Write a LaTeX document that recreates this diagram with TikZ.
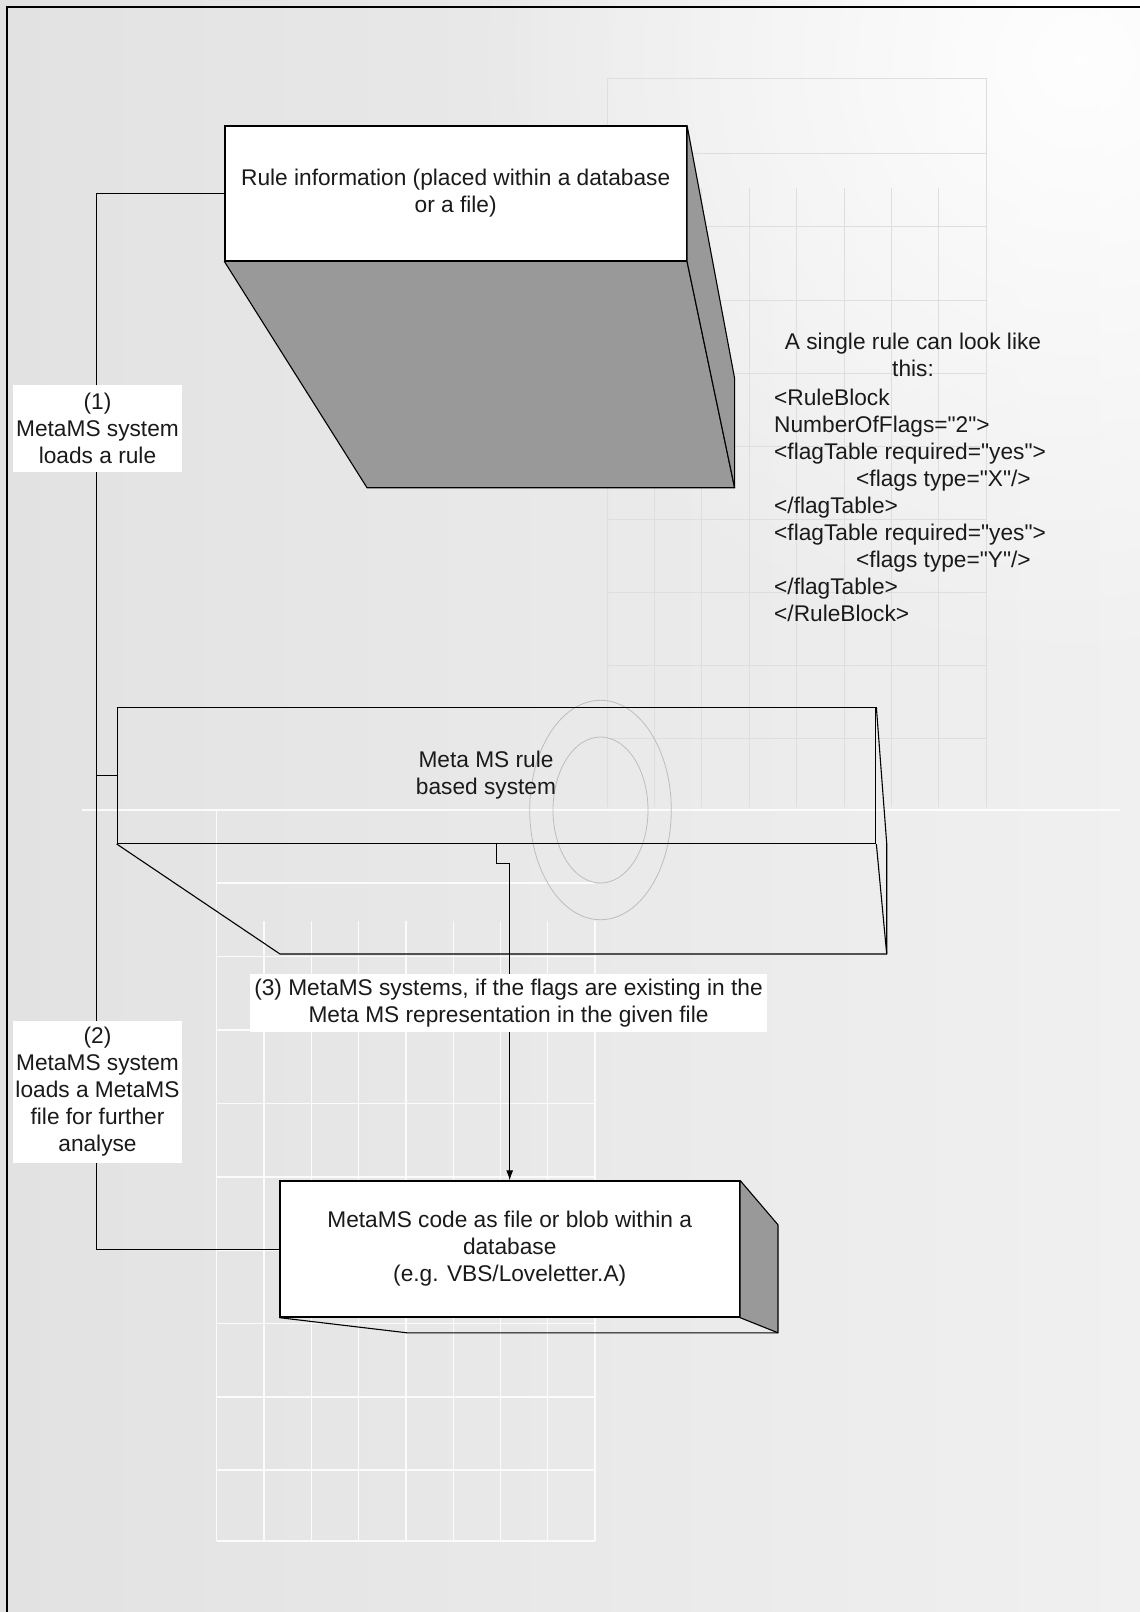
\documentclass[tikz,border=0pt]{standalone}
\usepackage{fontspec}
\setmainfont{Liberation Sans}[Ligatures=TeXOff]
\usetikzlibrary{arrows.meta,calc,fadings}
\definecolor{face}{HTML}{999999}
\definecolor{ink}{HTML}{1A1A1A}
\definecolor{bgL}{HTML}{E2E2E2}
\definecolor{bgR}{HTML}{F0F0F0}
\definecolor{gridline}{HTML}{DEDEDE}
\definecolor{ring}{HTML}{BDBDBD}
\tikzfading[name=glow, inner color=transparent!0, outer color=transparent!100]
\pgfdeclarelayer{bg}
\pgfdeclarelayer{faces}
\pgfsetlayers{bg,faces,main}

\begin{document}
\begin{tikzpicture}[x=1pt,y=-1pt,
  every node/.style={font=\fontsize{22.7}{27}\selectfont, text=ink, inner sep=0pt},
  front/.style={draw=black, line width=1.3pt, fill=white, align=center},
  openbox/.style={draw=black, line width=1.3pt},
  side/.style={draw=black, line width=1.1pt, fill=face, line join=round},
  edge3d/.style={draw=black, line width=1.1pt, line join=round},
  link/.style={draw=black, line width=1pt},
  tag/.style={fill=white, align=center},
  gridw/.style={draw=white, line width=1.3pt, opacity=0.85},
  gridg/.style={draw=gridline, line width=1pt}
]
\useasboundingbox (0,0) rectangle (1140,1612);

% ---------- backdrop ----------
\begin{pgfonlayer}{bg}
  \shade[left color=bgL, right color=bgR] (0,0) rectangle (1140,1612);
  \fill[white, path fading=glow, opacity=0.95] (1080,60) circle (620);
  % grid at the upper right
  \foreach \i in {0,...,8}
    \draw[gridg] ({607+47.4*\i},188) -- ({607+47.4*\i},807);
  \foreach \y in {226,300,373,446,519,592,665,738}
    \draw[gridg] (607,\y) -- (986,\y);
  \draw[gridg] (607,78) -- (986,78) (607,153) -- (986,153);
  \draw[gridg] (607,78) -- (607,188) (986,78) -- (986,188);
  % grid at the lower left
  \draw[gridw] (82,810) -- (1120,810);
  \draw[gridw] (216.7,810) -- (216.7,1541);
  \foreach \i in {1,...,8}
    \draw[gridw] ({216.7+47.3*\i},921) -- ({216.7+47.3*\i},1541);
  \foreach \y in {883,956.5,1030,1103.5,1177,1250,1323.5,1397,1470,1541}
    \draw[gridw] (216.7,\y) -- (595,\y);
  % rings
  \draw[ring, line width=0.8pt] (600.5,810) ellipse [x radius=70.8, y radius=109.7];
  \draw[ring, line width=0.8pt] (600.5,810) ellipse [x radius=47.5, y radius=73];
\end{pgfonlayer}

% page frame
\draw[line width=2.2pt] (7,1616) -- (7,7) -- (1144,7);

% ---------- blocks ----------
\node[front, minimum width=461.4, minimum height=134.7] (rule) at (455.7,193.4)
  {Rule information (placed within a database\\or a file)};

\node[openbox, minimum width=758.4, minimum height=135.6] (meta) at (496.5,775.5) {};
\node[align=center] (metalabel) at (486,775) {Meta MS rule\\based system};

\node[front, minimum width=459.4, minimum height=136] (code) at (509.7,1249)
  {MetaMS code as file or blob within a\\database\\(e.g. VBS/Loveletter.A)};

% ---------- 3D faces ----------
\coordinate (ruleSideTop) at (734.6,378.3);
\coordinate (ruleBackR) at (734.6,487.7);
\coordinate (ruleBackL) at (367,487.7);
\coordinate (metaSideMid) at (886.7,843.3);
\coordinate (metaBackR) at (886.7,954);
\coordinate (metaBackL) at (280,954);
\coordinate (codeSideTop) at (778,1224.8);
\coordinate (codeBackR) at (778,1332.8);
\coordinate (codeBackL) at (407,1332.8);

\begin{pgfonlayer}{faces}
  \path[side] (rule.south west) -- (rule.south east) -- (ruleBackR) -- (ruleBackL) -- cycle;
  \path[side] (rule.north east) -- (ruleSideTop) -- (ruleBackR) -- (rule.south east) -- cycle;

  \draw[edge3d] (meta.south west) -- (metaBackL) -- (metaBackR) -- (metaSideMid) -- (meta.north east);
  \draw[edge3d] (meta.south east) -- (metaBackR);

  \path[side] (code.north east) -- (codeSideTop) -- (codeBackR) -- (code.south east) -- cycle;
  \draw[edge3d] (code.south west) -- (codeBackL) -- (codeBackR);

  % ---------- connectors ----------
  \coordinate (rail) at ($(meta.west)+(-20,0)$);
  \draw[link] (rule.west) -| (rail) -- (meta.west);
  \draw[link] (code.west) -| (rail);
  \draw[link, -{Latex[length=10pt,width=7pt]}] (meta.south) -- ++(0,19.4) -| (code.north);
\end{pgfonlayer}

% ---------- connector labels ----------
\node[tag, minimum width=169, minimum height=87] (step1) at (97.5,428.5)
  {(1)\\MetaMS system\\loads a rule};
\node[tag, minimum width=169, minimum height=142] (step2) at (97.5,1092)
  {(2)\\MetaMS system\\loads a MetaMS\\file for further\\analyse};
\node[tag, minimum width=517, minimum height=58] (step3) at (508.5,1003)
  {(3) MetaMS systems, if the flags are existing in the\\Meta MS representation in the given file};

% ---------- rule example ----------
\node[align=center] (ruleintro) at (913,355) {A single rule can look like\\this:};
\node[align=left, anchor=west] (rulecode) at (774,505)
  {<RuleBlock\\
   NumberOfFlags="2">\\
   <flagTable required="yes">\\
   \hspace*{82pt}<flags type="X"/>\\
   </flagTable>\\
   <flagTable required="yes">\\
   \hspace*{82pt}<flags type="Y"/>\\
   </flagTable>\\
   </RuleBlock>};
\end{tikzpicture}
\end{document}
